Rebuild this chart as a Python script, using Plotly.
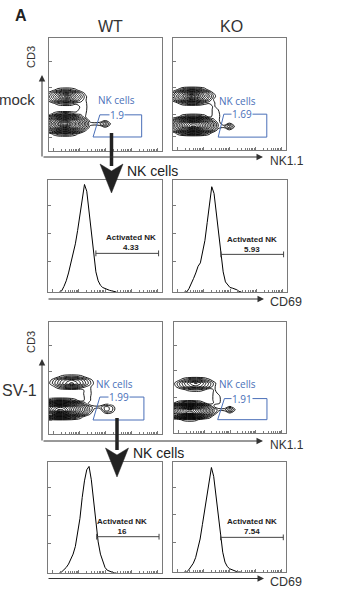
import numpy as np
import plotly.graph_objects as go

W, H = 341, 589

# ---------------- data ----------------
# contour density grids (tenths of a contour level), rows bottom -> top
grid_x = [0, 4, 8, 12, 16, 20, 24, 28, 32, 36, 40, 45, 50, 55, 60]
grid_y = [6, 9, 12, 15, 18, 21, 24, 27, 30, 33, 36, 39, 42, 45, 48, 51, 54, 57, 60]

density_wt_mock = [
    [0, 0, 0, 0, 0, 0, 0, 0, 0, 0, 0, 0, 0, 0, 0],
    [0, 0, 0, 0, 0, 0, 0, 0, 0, 0, 0, 0, 0, 0, 0],
    [0, 0, 0, 0, 0, 0, 0, 0, 0, 0, 0, 0, 0, 0, 0],
    [0, 11, 19, 23, 23, 19, 11, 0, 0, 0, 0, 0, 0, 0, 0],
    [26, 41, 52, 58, 58, 52, 41, 26, 9, 0, 0, 0, 0, 0, 0],
    [46, 65, 82, 93, 93, 82, 65, 46, 26, 6, 0, 0, 8, 0, 0],
    [54, 76, 98, 119, 119, 98, 76, 54, 33, 11, 12, 15, 30, 5, 0],
    [46, 65, 82, 93, 93, 82, 65, 46, 26, 6, 0, 0, 8, 0, 0],
    [26, 41, 52, 58, 58, 52, 41, 26, 9, 0, 0, 0, 0, 0, 0],
    [0, 11, 19, 23, 23, 19, 11, 12, 10, 0, 0, 0, 0, 0, 0],
    [0, 0, 0, 0, 0, 0, 5, 12, 12, 0, 0, 0, 0, 0, 0],
    [0, 0, 0, 0, 0, 0, 0, 10, 13, 0, 0, 0, 0, 0, 0],
    [0, 6, 14, 19, 20, 17, 10, 11, 12, 0, 0, 0, 0, 0, 0],
    [13, 27, 39, 48, 50, 44, 33, 20, 10, 0, 0, 0, 0, 0, 0],
    [20, 36, 52, 68, 76, 60, 44, 28, 12, 0, 0, 0, 0, 0, 0],
    [13, 27, 39, 48, 50, 44, 33, 20, 6, 0, 0, 0, 0, 0, 0],
    [0, 6, 14, 19, 20, 17, 10, 1, 0, 0, 0, 0, 0, 0, 0],
    [0, 0, 0, 0, 0, 0, 0, 0, 0, 0, 0, 0, 0, 0, 0],
    [0, 0, 0, 0, 0, 0, 0, 0, 0, 0, 0, 0, 0, 0, 0],
]

density_ko_mock = [
    [0, 0, 0, 0, 0, 0, 0, 0, 0, 0, 0, 0, 0, 0, 0],
    [0, 0, 0, 0, 0, 0, 0, 0, 0, 0, 0, 0, 0, 0, 0],
    [0, 0, 0, 0, 0, 0, 0, 0, 0, 0, 0, 0, 0, 0, 0],
    [0, 13, 25, 34, 38, 38, 34, 25, 13, 0, 0, 0, 0, 0, 0],
    [23, 41, 56, 69, 77, 77, 69, 56, 41, 23, 4, 0, 8, 0, 0],
    [35, 56, 76, 96, 114, 114, 96, 76, 56, 35, 15, 12, 30, 5, 0],
    [33, 53, 72, 89, 102, 102, 89, 72, 53, 33, 13, 0, 8, 0, 0],
    [16, 32, 47, 58, 64, 64, 58, 47, 32, 16, 10, 0, 0, 0, 0],
    [0, 3, 14, 21, 25, 25, 21, 14, 3, 12, 11, 0, 0, 0, 0],
    [0, 0, 0, 0, 0, 0, 0, 0, 0, 12, 10, 0, 0, 0, 0],
    [0, 0, 0, 0, 0, 0, 0, 0, 0, 12, 8, 0, 0, 0, 0],
    [0, 0, 0, 0, 0, 0, 0, 0, 0, 11, 0, 0, 0, 0, 0],
    [0, 8, 18, 26, 29, 28, 23, 14, 10, 11, 0, 0, 0, 0, 0],
    [15, 31, 46, 58, 64, 62, 52, 39, 23, 7, 0, 0, 0, 0, 0],
    [23, 41, 59, 77, 95, 86, 68, 50, 32, 14, 0, 0, 0, 0, 0],
    [15, 31, 46, 58, 64, 62, 52, 39, 23, 7, 0, 0, 0, 0, 0],
    [0, 8, 18, 26, 29, 28, 23, 14, 2, 0, 0, 0, 0, 0, 0],
    [0, 0, 0, 0, 0, 0, 0, 0, 0, 0, 0, 0, 0, 0, 0],
    [0, 0, 0, 0, 0, 0, 0, 0, 0, 0, 0, 0, 0, 0, 0],
]

density_wt_hsv = [
    [0, 0, 0, 0, 0, 0, 0, 0, 0, 0, 0, 0, 0, 0, 0],
    [0, 0, 0, 0, 0, 0, 0, 0, 0, 0, 0, 0, 0, 0, 0],
    [0, 0, 0, 0, 0, 0, 0, 0, 0, 0, 0, 0, 0, 0, 0],
    [32, 38, 42, 42, 38, 32, 23, 13, 0, 0, 0, 0, 0, 0, 0],
    [68, 78, 83, 83, 78, 68, 56, 41, 26, 10, 0, 0, 5, 4, 0],
    [93, 110, 123, 123, 110, 93, 75, 58, 40, 22, 4, 0, 25, 20, 0],
    [87, 101, 111, 111, 101, 87, 71, 54, 37, 19, 12, 12, 25, 20, 0],
    [57, 65, 69, 69, 65, 57, 46, 33, 18, 3, 0, 0, 5, 4, 0],
    [19, 25, 28, 28, 25, 19, 11, 2, 10, 10, 0, 0, 0, 0, 0],
    [0, 0, 0, 0, 0, 0, 0, 0, 10, 10, 0, 0, 0, 0, 0],
    [0, 0, 0, 0, 0, 0, 0, 0, 12, 12, 0, 0, 0, 0, 0],
    [0, 0, 0, 0, 0, 0, 0, 0, 11, 11, 0, 0, 0, 0, 0],
    [0, 5, 15, 23, 28, 30, 28, 23, 15, 11, 0, 0, 0, 0, 0],
    [6, 18, 31, 43, 54, 60, 54, 43, 31, 18, 6, 0, 0, 0, 0],
    [3, 15, 27, 38, 46, 50, 46, 38, 27, 15, 3, 0, 0, 0, 0],
    [0, 0, 7, 14, 18, 20, 18, 14, 7, 0, 0, 0, 0, 0, 0],
    [0, 0, 0, 0, 0, 0, 0, 0, 0, 0, 0, 0, 0, 0, 0],
    [0, 0, 0, 0, 0, 0, 0, 0, 0, 0, 0, 0, 0, 0, 0],
    [0, 0, 0, 0, 0, 0, 0, 0, 0, 0, 0, 0, 0, 0, 0],
]

density_ko_hsv = [
    [0, 0, 0, 0, 0, 0, 0, 0, 0, 0, 0, 0, 0, 0, 0],
    [0, 0, 0, 0, 0, 0, 0, 0, 0, 0, 0, 0, 0, 0, 0],
    [0, 4, 11, 15, 15, 11, 4, 0, 0, 0, 0, 0, 0, 0, 0],
    [32, 45, 56, 61, 61, 56, 45, 32, 16, 0, 0, 0, 0, 0, 0],
    [59, 78, 95, 107, 107, 95, 78, 59, 38, 18, 0, 0, 8, 0, 0],
    [63, 84, 104, 121, 121, 104, 84, 63, 42, 21, 12, 12, 30, 6, 0],
    [42, 58, 70, 77, 77, 70, 58, 42, 25, 6, 0, 0, 8, 0, 0],
    [8, 18, 26, 31, 31, 26, 18, 8, 0, 10, 10, 0, 0, 0, 0],
    [0, 0, 0, 0, 0, 0, 0, 0, 0, 12, 11, 0, 0, 0, 0],
    [0, 0, 0, 0, 0, 0, 0, 0, 0, 12, 10, 0, 0, 0, 0],
    [0, 0, 0, 0, 0, 0, 0, 0, 0, 11, 6, 0, 0, 0, 0],
    [0, 0, 5, 11, 15, 16, 14, 8, 1, 10, 0, 0, 0, 0, 0],
    [3, 16, 28, 38, 46, 48, 43, 33, 22, 10, 0, 0, 0, 0, 0],
    [6, 19, 32, 44, 55, 59, 50, 38, 25, 12, 0, 0, 0, 0, 0],
    [0, 4, 13, 21, 26, 27, 24, 17, 9, 0, 0, 0, 0, 0, 0],
    [0, 0, 0, 0, 0, 0, 0, 0, 0, 0, 0, 0, 0, 0, 0],
    [0, 0, 0, 0, 0, 0, 0, 0, 0, 0, 0, 0, 0, 0, 0],
    [0, 0, 0, 0, 0, 0, 0, 0, 0, 0, 0, 0, 0, 0, 0],
    [0, 0, 0, 0, 0, 0, 0, 0, 0, 0, 0, 0, 0, 0, 0],
]

# NK gates (NK1.1 vs CD3 units) and percentages
nk_gate_x = [[45, 82, 82, 39, 45], [45, 83, 83, 40, 45], [45, 84, 84, 39, 45], [45, 83, 83, 39, 45]]
nk_gate_y = [[32, 32, 12.4, 12.4, 32], [32, 32, 11.5, 11.5, 32], [33, 33, 12.5, 12.5, 33], [31, 31, 12, 12, 31]]
nk_values = ["1.9", "1.69", "1.99", "1.91"]

# CD69 histograms
cd69_bins = [10, 12, 14, 16, 18, 20, 22, 24, 26, 28, 30, 32, 34, 36, 38, 40, 42, 44, 46, 48, 50, 52, 54, 56, 58, 60]
cd69_wt_mock = [0, 1, 5, 10, 17, 25, 33, 43, 55, 70, 84, 96, 90, 72, 52, 32, 18, 10, 6, 4, 3, 2, 1.5, 1, 0.5, 0]
cd69_ko_mock = [0, 0, 3, 7, 12, 17, 23, 26, 35, 46, 62, 79, 94, 88, 70, 54, 34, 18, 9, 6, 4, 3.5, 3, 2, 0.5, 0]
cd69_wt_hsv = [0, 1, 3, 5, 8, 12, 17, 24, 35, 49, 68, 83, 93, 96, 84, 64, 43, 28, 17, 10, 5, 2.5, 1.5, 1, 0, 0]
cd69_ko_hsv = [0, 0, 2, 5, 8, 13, 21, 30, 43, 57, 71, 83, 95, 87, 70, 51, 32, 18, 9, 5, 3, 2, 1, 0.5, 0, 0]
act_gate_x = [[42, 97], [42, 97], [42.7, 97.4], [42.1, 97.6]]
act_values = ["4.33", "5.93", "16", "7.54"]

# ---------------- layout helpers ----------------
FRAME = "#7a7a7a"
BLUE = "#4a6fb8"
INK = "#222222"
FONT = "Liberation Sans, Arial, sans-serif"

panels = [  # left, right, top, bottom (px)
    (49, 162, 38, 151), (173, 286, 38, 150), (48, 162, 180, 292), (173, 287, 180, 292),
    (49, 162, 322, 434), (174, 286, 322, 433), (48, 162, 462, 573), (173, 286, 462, 572),
]
scatter_panels = [1, 2, 5, 6]
hist_panels = [3, 4, 7, 8]


def ids(i):
    return ("x", "y") if i == 1 else (f"x{i}", f"y{i}")


dec_w = 23.0
major_x = [4 + dec_w * k for k in range(5)]
minor_x = [4 + dec_w * k + dec_w * np.log10(m) for k in range(4) for m in range(2, 10)]

fig = go.Figure()
lay = {}
for i, (l, r, t, b) in enumerate(panels, start=1):
    xa = "xaxis" if i == 1 else f"xaxis{i}"
    ya = "yaxis" if i == 1 else f"yaxis{i}"
    xid, yid = ids(i)
    hist = i in hist_panels
    common = dict(range=[0, 100], showline=True, mirror=True, linecolor=FRAME, linewidth=1,
                  ticks="inside", tickcolor=FRAME, showticklabels=False, showgrid=False,
                  zeroline=False, fixedrange=True)
    lay[xa] = dict(domain=[l / W, r / W], anchor=yid, ticklen=3, tickvals=major_x,
                   minor=dict(tickvals=minor_x, ticklen=2, ticks="inside", tickcolor=FRAME),
                   **common)
    lay[ya] = dict(domain=[1 - b / H, 1 - t / H], anchor=xid, ticklen=3,
                   tickvals=[27, 52, 77] if hist else [12, 17, 32, 56, 79], **common)

annotations = []
shapes = []

# contour panels
densities = [density_wt_mock, density_ko_mock, density_wt_hsv, density_ko_hsv]
nk_label_pos = [(60, 45), (57, 44), (57.6, 44.6), (57, 43.8)]
for k, i in enumerate(scatter_panels):
    xid, yid = ids(i)
    fig.add_trace(go.Contour(
        x=grid_x, y=grid_y, z=np.array(densities[k]) / 10.0, xaxis=xid, yaxis=yid,
        contours=dict(start=0.8, end=14, size=0.7, coloring="none"),
        line=dict(color="black", width=0.9), line_smoothing=1.0,
        showscale=False, hoverinfo="skip"))
    fig.add_trace(go.Scatter(x=nk_gate_x[k], y=nk_gate_y[k], xaxis=xid, yaxis=yid, mode="lines",
                             line=dict(color=BLUE, width=1), hoverinfo="skip"))
    lx, ly = nk_label_pos[k]
    annotations.append(dict(x=lx, y=ly, xref=xid, yref=yid, text="NK cells", showarrow=False,
                            font=dict(family="Open Sans", size=10, color=BLUE)))
    annotations.append(dict(x=(nk_gate_x[k][0] + nk_gate_x[k][1]) / 2 - 3, y=nk_gate_y[k][0],
                            xref=xid, yref=yid, text=nk_values[k], showarrow=False,
                            bgcolor="white", borderpad=0,
                            font=dict(family="Open Sans", size=10, color=BLUE)))

# histogram panels
hists = [cd69_wt_mock, cd69_ko_mock, cd69_wt_hsv, cd69_ko_hsv]
act_gate_level = [34.5, 33.6, 32.7, 31.5]
act_label_pos = [(72.8, 44.5), (69.3, 42.3), (65.0, 42.2), (70.0, 41.6)]
for k, i in enumerate(hist_panels):
    xid, yid = ids(i)
    fig.add_trace(go.Scatter(x=cd69_bins, y=hists[k], xaxis=xid, yaxis=yid, mode="lines",
                             line=dict(color="black", width=1), hoverinfo="skip"))
    g0, g1 = act_gate_x[k]
    gy = act_gate_level[k]
    fig.add_trace(go.Scatter(x=[g0, g0, None, g0, g1, None, g1, g1],
                             y=[gy - 2.6, gy + 2.6, None, gy, gy, None, gy - 2.6, gy + 2.6],
                             xaxis=xid, yaxis=yid, mode="lines",
                             line=dict(color="#444", width=1), hoverinfo="skip"))
    tx, ty = act_label_pos[k]
    annotations.append(dict(x=tx, y=ty, xref=xid, yref=yid,
                            text=f"<b>Activated NK<br>{act_values[k]}</b>",
                            showarrow=False, font=dict(family=FONT, size=8, color=INK)))


def ptext(x, y, s, size, anchor="center", color="#333", angle=0, bold=False):
    annotations.append(dict(x=x / W, y=1 - y / H, xref="paper", yref="paper",
                            text=f"<b>{s}</b>" if bold else s, showarrow=False,
                            xanchor=anchor, yanchor="middle", textangle=angle,
                            font=dict(family=FONT, size=size, color=color)))


def parrow(x0, y0, x1, y1):
    annotations.append(dict(x=x1 / W, y=1 - y1 / H, xref="paper", yref="paper",
                            ax=x0 - x1, ay=y0 - y1, text="", showarrow=True,
                            arrowhead=2, arrowsize=1.3, arrowwidth=1, arrowcolor="#333"))


ptext(21, 15, "A", 16, color=INK, bold=True)
ptext(110, 27, "WT", 16)
ptext(232, 27, "KO", 16)
ptext(37, 99, "mock", 15, anchor="right")
ptext(39, 390, "SV-1", 16, anchor="right")
ptext(31, 57, "CD3", 11, angle=-90)
ptext(31, 342, "CD3", 11, angle=-90)
ptext(268, 161, "NK1.1", 12, anchor="left")
ptext(268, 445, "NK1.1", 12, anchor="left")
ptext(268, 302, "CD69", 12.5, anchor="left")
ptext(268, 582, "CD69", 12.5, anchor="left")
ptext(125, 171, "NK cells", 14, anchor="left", color=INK)
ptext(131, 453, "NK cells", 14, anchor="left", color=INK)

# axis arrows
parrow(42, 158, 42, 75)
parrow(42, 157, 263, 157)
parrow(47, 299, 264, 299)
parrow(42, 442, 42, 359)
parrow(42, 441, 263, 441)
parrow(47, 578.5, 264, 578.5)


def P(x, y):
    return f"{x / W:.5f},{1 - y / H:.5f}"


for (sx, st, sb, tip) in [(111.5, 133, 166, 193), (117, 418, 450, 477)]:
    shapes.append(dict(type="line", xref="paper", yref="paper", x0=sx / W, x1=sx / W,
                       y0=1 - st / H, y1=1 - sb / H, line=dict(color=INK, width=3.5)))
    base = tip - 29
    shapes.append(dict(type="path", xref="paper", yref="paper",
                       path=f"M {P(sx - 11.5, base)} L {P(sx, base + 7)} L {P(sx + 11.5, base)} L {P(sx, tip)} Z",
                       fillcolor=INK, line=dict(color=INK, width=0.5)))

fig.update_layout(width=W, height=H, margin=dict(l=0, r=0, t=0, b=0), autosize=False,
                  paper_bgcolor="white", plot_bgcolor="white", showlegend=False,
                  annotations=annotations, shapes=shapes, **lay)

fig.write_html("out.html", config={"displayModeBar": False})
